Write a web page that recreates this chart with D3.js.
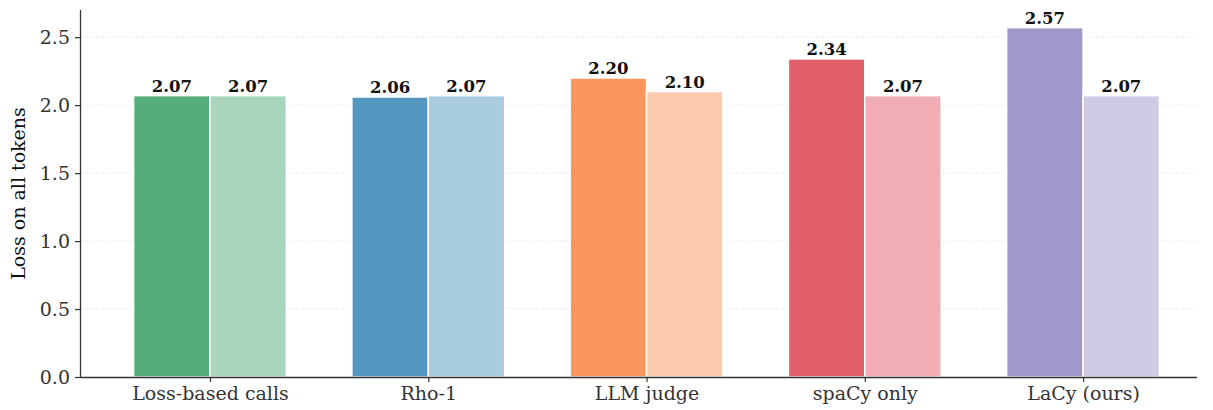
<html>
<head>
<script src="https://d3js.org/d3.v7.min.js"></script>
<style>
  body { margin: 0; background: white; }
  text { font-family: "DejaVu Serif", serif; }
</style>
</head>
<body>
<script>
    // data
    var categories = ['Loss-based calls', 'Rho-1', 'LLM judge', 'spaCy only', 'LaCy (ours)']
    var firstValues = [2.07, 2.06, 2.20, 2.34, 2.57]
    var secondValues = [2.07, 2.07, 2.10, 2.07, 2.07]
    var darkColors = ['#55ad79', '#5497c1', '#f9975e', '#e3606b', '#a197ca']
    var lightColors = ['#a9d5bd', '#a8cbe0', '#fbc9ae', '#f0aeb4', '#d0cbe4']
    var yTicks = [0.0, 0.5, 1.0, 1.5, 2.0, 2.5]

    var width = 1213, height = 410
    var plotL = 81, plotR = 1197, plotT = 10, plotB = 377
    var barW = 0.35

    var svg = d3.select('body').append('svg').attr('width', width).attr('height', height)

    var x = d3.scaleLinear().domain([-0.591, 4.522]).range([plotL, plotR])
    var y = d3.scaleLinear().domain([0, 2.7]).range([plotB, plotT])

    // grid
    svg.append('g').selectAll('line').data(yTicks.slice(1)).enter().append('line')
        .attr('x1', plotL).attr('x2', plotR)
        .attr('y1', function(d){return y(d)}).attr('y2', function(d){return y(d)})
        .attr('stroke', '#e4e4e4').attr('stroke-width', 0.8).attr('stroke-dasharray', '3,2')

    var rows = categories.map(function(c, i){
        return [{i: i, off: -barW/2, v: firstValues[i], c: darkColors[i]},
                {i: i, off: barW/2, v: secondValues[i], c: lightColors[i]}]
    }).flat()

    svg.append('g').selectAll('rect').data(rows).enter().append('rect')
        .attr('x', function(d){return x(d.i + d.off - barW/2)})
        .attr('width', function(d){return x(barW) - x(0)})
        .attr('y', function(d){return y(d.v)})
        .attr('height', function(d){return y(0) - y(d.v)})
        .attr('fill', function(d){return d.c})
        .attr('stroke', 'white').attr('stroke-width', 1.5)

    svg.append('g').selectAll('text').data(rows).enter().append('text')
        .attr('x', function(d){return x(d.i + d.off)})
        .attr('y', function(d){return y(d.v) - 4})
        .attr('text-anchor', 'middle')
        .style('font-size', '16.5px').style('font-weight', 'bold').attr('fill', '#111')
        .text(function(d){return d.v.toFixed(2)})

    // axes
    var yAxis = d3.axisLeft(y).tickValues(yTicks).tickFormat(d3.format('.1f')).tickSize(6).tickPadding(5)
    var gy = svg.append('g').attr('transform', `translate(${plotL},0)`).call(yAxis)
    gy.select('.domain').attr('d', `M-0.5,${plotT}V${plotB}`)

    var xAxis = d3.axisBottom(x).tickValues(d3.range(categories.length))
        .tickFormat(function(d){return categories[d]}).tickSize(5).tickPadding(5)
    var gx = svg.append('g').attr('transform', `translate(0,${plotB})`).call(xAxis)
    gx.select('.domain').attr('d', `M${plotL},0.5H${plotR}`)

    svg.selectAll('.domain').attr('stroke', '#333').attr('stroke-width', 1.3)
    svg.selectAll('.tick line').attr('stroke', '#333').attr('stroke-width', 1.2)
    svg.selectAll('.tick text').style('font-size', '19px').attr('fill', '#333')
        .style('font-family', '"DejaVu Serif", serif')

    svg.append('text').attr('transform', `translate(25,${(plotT+plotB)/2}) rotate(-90)`)
        .attr('text-anchor', 'middle').style('font-size', '19px').attr('fill', '#111')
        .text('Loss on all tokens')
</script>
</body>
</html>
